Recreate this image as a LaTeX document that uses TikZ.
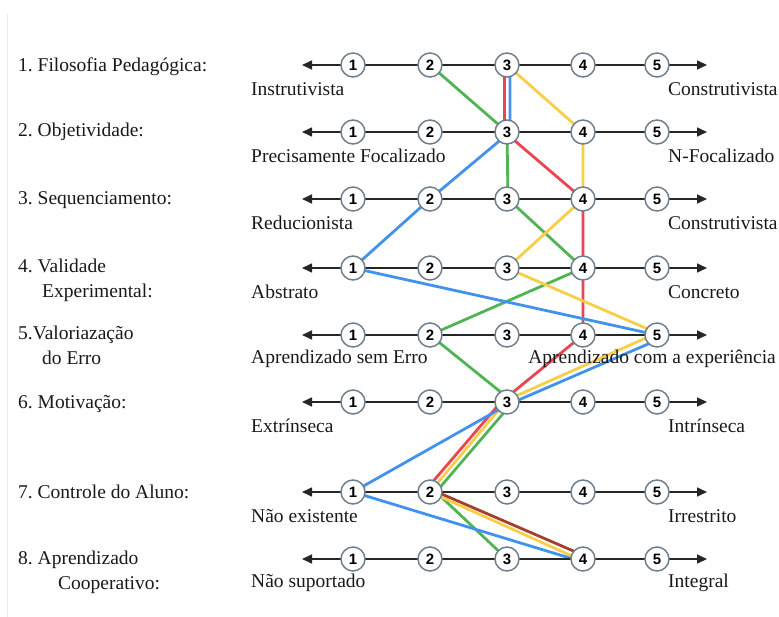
\documentclass[tikz,border=0pt]{standalone}
\usepackage{fontspec}
\setmainfont{Liberation Serif}
\newfontfamily\numfont{Liberation Sans}
\usetikzlibrary{arrows.meta,backgrounds}
\definecolor{cgreen}{RGB}{80,180,85}
\definecolor{cred}{RGB}{232,70,82}
\definecolor{cblue}{RGB}{66,146,236}
\definecolor{cyellow}{RGB}{248,206,72}
\definecolor{cbrown}{RGB}{165,62,45}
\definecolor{cring}{RGB}{112,126,140}
\definecolor{ctext}{RGB}{25,25,25}
\frenchspacing
\begin{document}
\begin{tikzpicture}[x=1pt,y=-1pt,
  sc/.style={circle,draw=cring,fill=white,line width=1.5pt,minimum size=24pt,inner sep=0pt,
    font=\numfont\bfseries\fontsize{15}{15}\selectfont,text=black},
  axisline/.style={line width=1.6pt,black!85,{Triangle[length=10pt,width=9pt]}-{Triangle[length=10pt,width=9pt]}},
  lab/.style={font=\fontsize{19.5}{25}\selectfont,text=ctext,inner sep=0pt},
  cl/.style={line width=2.8pt,line cap=round,line join=round}]
\useasboundingbox (0,0) rectangle (779,617);
\draw[black!8,line width=1pt] (7,14) -- (7,617);
% axes and circles
\foreach \r/\y in {1/65,2/132,3/199,4/268,5/335,6/402,7/492,8/559}{
  \coordinate (L\r) at (302,\y);
  \coordinate (R\r) at (707,\y);
  \draw[axisline] (L\r) -- (R\r);
  \foreach \c/\x in {1/353,2/430,3/507,4/583,5/657}{
    \node[sc] (r\r c\c) at (\x,\y) {\c};
  }
}
% colored lines behind circles
\begin{pgfonlayer}{background}
\draw[cl,cgreen] (r1c2.center) -- (r2c3.center) -- ([xshift=1pt]r3c3.center) -- (r4c4.center)
  -- (r5c2.center) -- ([xshift=6pt]r6c3.center) -- ([xshift=6pt]r7c2.center) -- (r8c3.center);
\draw[cl,cred] ([xshift=-2.5pt]r1c3.center) -- ([xshift=-2.5pt]r2c3.center) -- (r3c4.center)
  -- (r4c4.center) -- (r5c4.center) -- ([xshift=-6pt]r6c3.center) -- ([xshift=-6pt]r7c2.center);
\draw[cl,cbrown] ([yshift=3pt]r7c2.center) -- ([xshift=2pt,yshift=3pt]r8c4.center);
\draw[cl,cyellow] (r1c3.center) -- (r2c4.center) -- (r3c4.center) -- (r4c3.center)
  -- ([yshift=2pt]r5c5.center) -- ([yshift=2pt]r6c3.center) -- (r7c2.center) -- ([yshift=-2pt]r8c4.center);
\draw[cl,cblue] ([xshift=3pt]r1c3.center) -- ([xshift=3pt]r2c3.center) -- (r3c2.center) -- (r4c1.center)
  -- (r5c5.center) -- ([xshift=5pt,yshift=-3pt]r5c5.center) -- ([yshift=-3pt]r6c3.center) -- (r7c1.center) -- ([yshift=-3pt]r8c4.center);
\end{pgfonlayer}
% axis end labels
\foreach \r/\y/\lt/\rt in {1/65/Instrutivista/Construtivista,2/132/Precisamente Focalizado/N-Focalizado,
  3/199/Reducionista/Construtivista,4/268/Abstrato/Concreto,6/402/Extrínseca/Intrínseca,
  7/492/Não existente/Irrestrito,8/559/Não suportado/Integral}{
  \node[lab,anchor=west] (lt\r) at (251,\y+24) {\lt};
  \node[lab,anchor=west] (rt\r) at (668,\y+24) {\rt};
}
\node[lab,anchor=west] (lt5) at (251,359) {Aprendizado sem Erro};
\node[lab,anchor=east] (rt5) at (776,359) {Aprendizado com a experiência};
% left column labels
\node[lab,anchor=west] (c1) at (18,67) {1. Filosofia Pedagógica:};
\node[lab,anchor=west] (c2) at (18,132) {2. Objetividade:};
\node[lab,anchor=west] (c3) at (18,200) {3. Sequenciamento:};
\node[lab,anchor=north west,align=left] (c4) at (18,259) {4. Validade\\\hspace*{24pt}Experimental:};
\node[lab,anchor=north west,align=left] (c5) at (18,326) {5.Valoriazação\\\hspace*{24pt}do Erro};
\node[lab,anchor=west] (c6) at (18,404) {6. Motivação:};
\node[lab,anchor=west] (c7) at (18,492) {7. Controle do Aluno:};
\node[lab,anchor=north west,align=left] (c8) at (18,551) {8. Aprendizado\\\hspace*{40pt}Cooperativo:};
\end{tikzpicture}
\end{document}
